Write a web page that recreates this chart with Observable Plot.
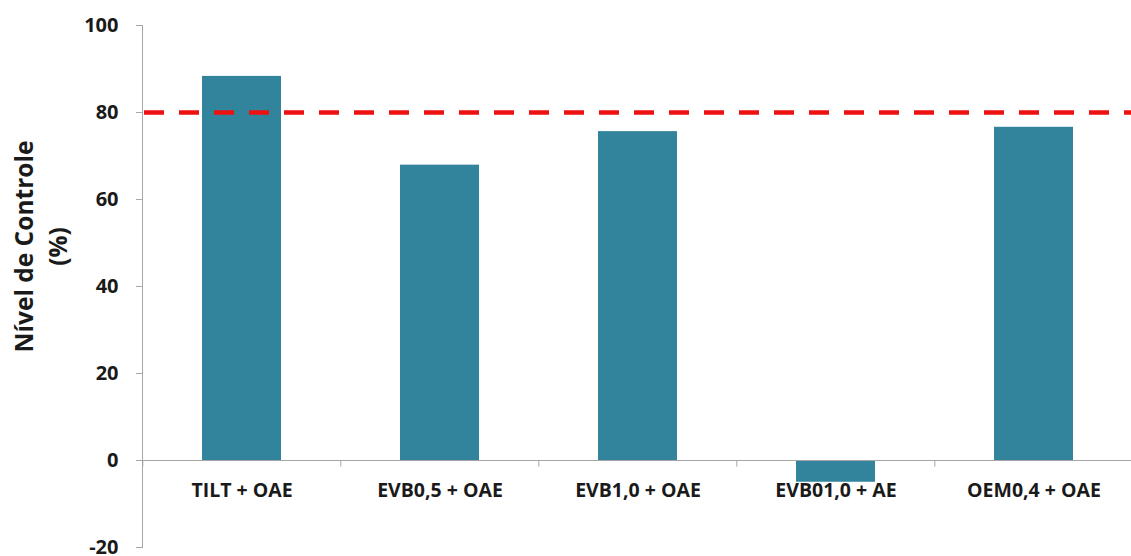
<!DOCTYPE html>
<html>
<head>
<meta charset="utf-8">
<script src="https://cdn.jsdelivr.net/npm/d3@7"></script>
<script src="https://cdn.jsdelivr.net/npm/@observablehq/plot@0.6"></script>
<style>
  html, body { margin: 0; padding: 0; background: #fff; }
  #chart { width: 1131px; height: 556px; }
</style>
</head>
<body>
<div id="chart"></div>
<script>
// Treatments and their control level (%)
const categories = ["TILT + OAE", "EVB0,5 + OAE", "EVB1,0 + OAE", "EVB01,0 + AE", "OEM0,4 + OAE"];
const controlLevel = [88.3, 67.9, 75.6, -5, 76.6];
const yTicks = [-20, 0, 20, 40, 60, 80, 100];
const threshold = [80];
const yLabel = "Nível de Controle\n(%)";

const data = categories.map((c, i) => ({category: c, value: controlLevel[i]}));

const axisGray = "#a6a6a6";
const textColor = "#1a1a1a";
const xRange = [142, 1134];
const step = (xRange[1] - xRange[0]) / categories.length;

const chart = Plot.plot({
  width: 1131,
  height: 556,
  marginTop: 25,
  marginBottom: 9,
  marginLeft: 142,
  marginRight: 0,
  style: {fontFamily: "'Open Sans', Lato, sans-serif", fontWeight: "bold", color: textColor, background: "#fff"},
  x: {domain: categories, range: xRange, paddingInner: 0.6, paddingOuter: 0.3, axis: null},
  y: {domain: [-20, 100], axis: null},
  marks: [
    Plot.frame({anchor: "left", stroke: axisGray}),
    Plot.axisY({ticks: yTicks, tickSize: 6, tickPadding: 18, tickFormat: d => String(d), fontSize: 20, stroke: axisGray, fill: textColor, label: null}),
    Plot.barY(data, {x: "category", y: "value", fill: "#31849B"}),
    Plot.ruleY([0], {stroke: axisGray, strokeWidth: 1}),
    // category separators below the zero line
    Plot.ruleX(categories, {x: d => d, y1: 0, y2: -1.5, dx: -step / 2, stroke: axisGray}),
    Plot.ruleX(categories.slice(-1), {x: d => d, y1: 0, y2: -1.5, dx: step / 2, stroke: axisGray}),
    Plot.text(categories, {x: d => d, y: 0, dy: 30, lineAnchor: "middle", fontSize: 19.5, fill: textColor}),
    Plot.ruleY(threshold, {stroke: "#ee1111", strokeWidth: 4.5, strokeDasharray: "20,15", insetLeft: 2}),
    Plot.text([yLabel], {frameAnchor: "left", textAnchor: "middle", rotate: -90, dx: -103, dy: -40, lineAnchor: "middle", lineHeight: 1.38, fontSize: 24.5, fill: textColor})
  ]
});

document.getElementById("chart").appendChild(chart);
</script>
</body>
</html>
